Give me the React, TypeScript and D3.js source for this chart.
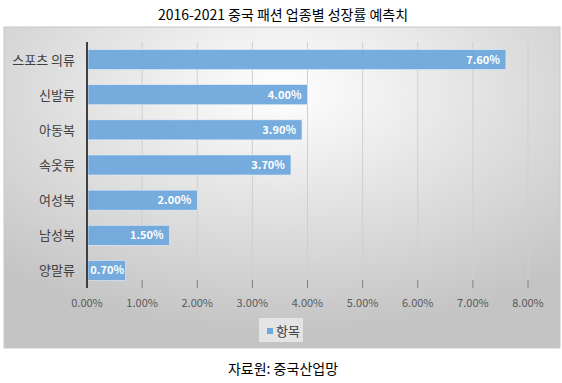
import React from "react";
import * as d3 from "d3";

const categories = ["스포츠 의류", "신발류", "아동복", "속옷류", "여성복", "남성복", "양말류"];
const values = [7.6, 4.0, 3.9, 3.7, 2.0, 1.5, 0.7];
const ticks = [0, 1, 2, 3, 4, 5, 6, 7, 8];
const seriesName = "항목";
const title = "2016-2021 중국 패션 업종별 성장률 예측치";
const source = "자료원: 중국산업망";

const W = 562, H = 383;
const FONT = "'Noto Sans CJK KR', 'Noto Sans', sans-serif";

export default function App() {
  const x = d3.scaleLinear().domain([0, 8]).range([87, 528]);
  const y = d3.scaleBand<string>().domain(categories).range([42, 288]).paddingInner(0.43).paddingOuter(0.215);
  const bw = y.bandwidth();
  return (
    <svg width={W} height={H} style={{ position: "absolute", left: 0, top: 0, fontFamily: FONT }}>
      <defs>
        <radialGradient id="bg" cx="0.5" cy="0.2" r="0.75" fx="0.5" fy="0.2">
          <stop offset="0" stopColor="#ffffff" />
          <stop offset="1" stopColor="#c4c4c4" />
        </radialGradient>
      </defs>
      <rect x={0} y={0} width={W} height={H} fill="#fff" />
      <text x={283} y={20} textAnchor="middle" fontSize={14} fill="#000">{title}</text>
      <rect x={4} y={27} width={556} height={321} fill="url(#bg)" stroke="#c8c8c8" strokeWidth={1} />
      {ticks.slice(1).map(t => (
        <line key={t} x1={x(t)} x2={x(t)} y1={42} y2={288} stroke="#cfcfcf" strokeWidth={1} />
      ))}
      {ticks.map(t => (
        <g key={"t" + t}>
          <line x1={x(t)} x2={x(t)} y1={280} y2={288} stroke="#7f7f7f" strokeWidth={1} />
          <text x={x(t)} y={307} textAnchor="middle" fontSize={11} fill="#595959">{t.toFixed(2)}%</text>
        </g>
      ))}
      {categories.map((c, i) => (
        <g key={c}>
          <rect x={x(0) + 1} y={y(c)!} width={x(values[i]) - x(0) - 1} height={bw} fill="#6fa8dc" fillOpacity={0.95} stroke="#e8eef6" strokeWidth={0.6} />
          <text x={Math.max(x(values[i]) - 6, x(0) + 37)} y={y(c)! + bw / 2 + 4} textAnchor="end" fontSize={11} fontWeight="bold" fill="#fff">{values[i].toFixed(2)}%</text>
          <text x={75} y={y(c)! + bw / 2 + 5} textAnchor="end" fontSize={13} fill="#404040">{c}</text>
        </g>
      ))}
      <line x1={x(0)} x2={x(0)} y1={42} y2={288} stroke="#404040" strokeWidth={2} />
      <rect x={259} y={318} width={44} height={24} fill="#e4e4e4" />
      <rect x={267} y={328} width={6} height={6} fill="#6fa8dc" />
      <text x={276} y={336} fontSize={13} fill="#404040">{seriesName}</text>
      <text x={283} y={374} textAnchor="middle" fontSize={14} fill="#000">{source}</text>
    </svg>
  );
}
